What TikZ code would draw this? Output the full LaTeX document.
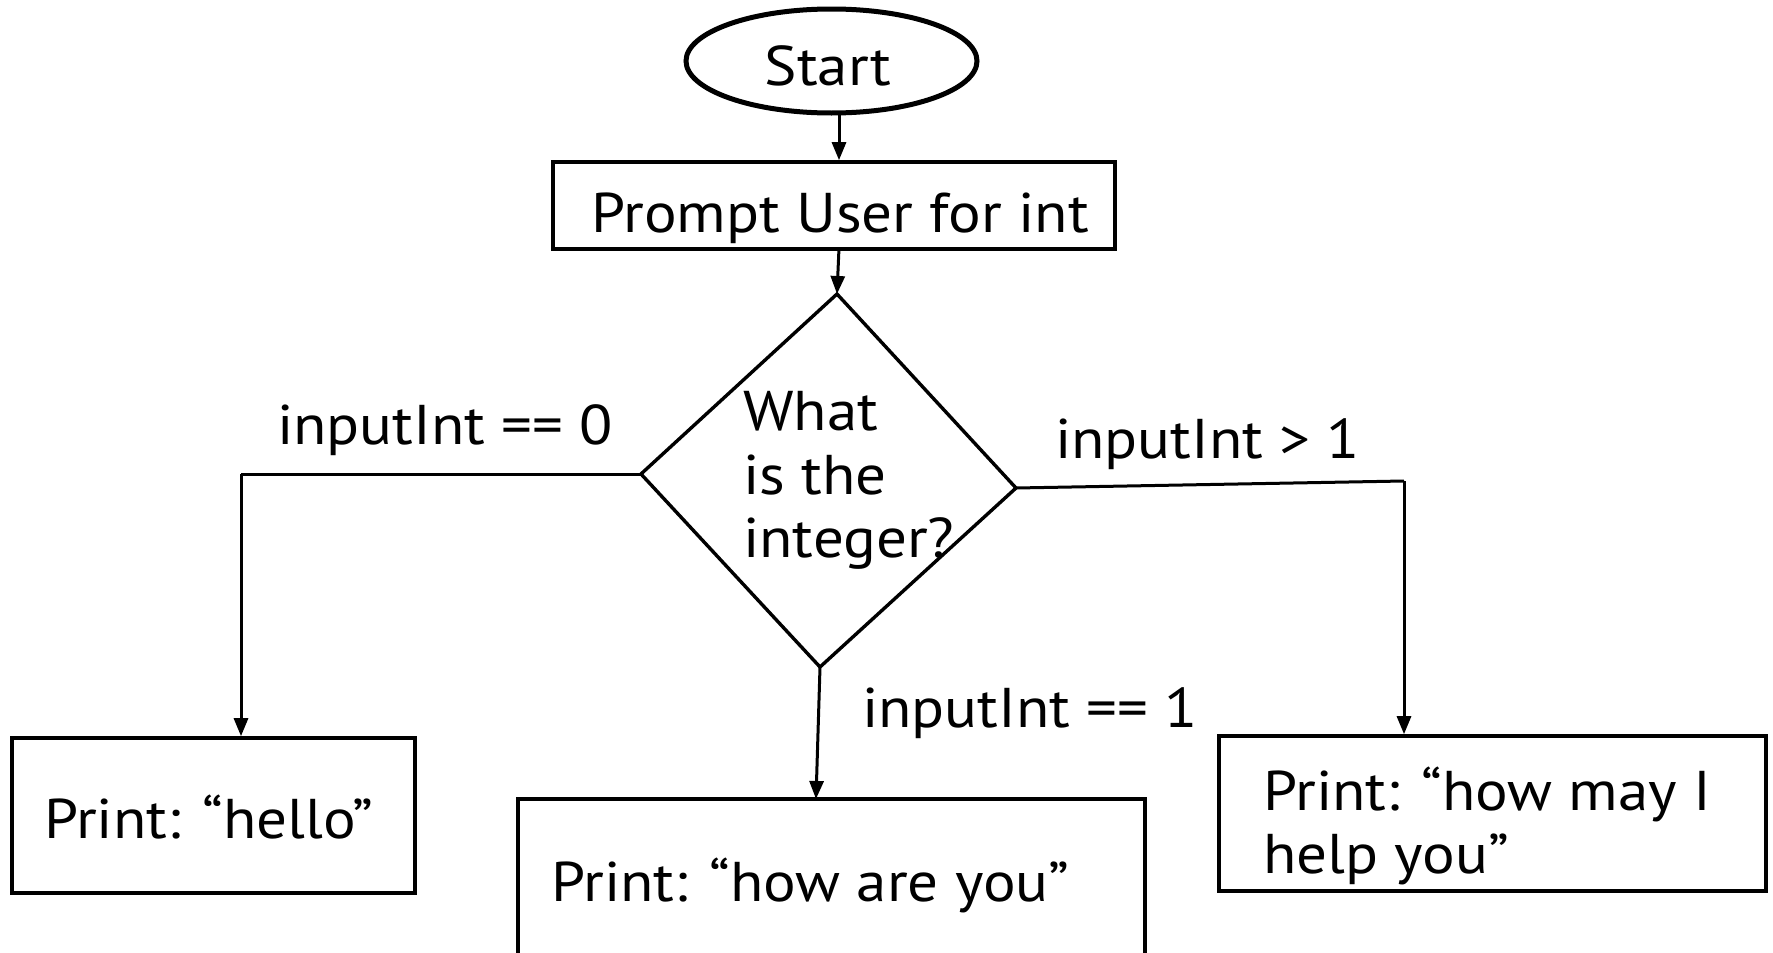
\documentclass[tikz,border=0pt]{standalone}
\usepackage{fontspec}
\setmainfont[FakeStretch=1.09]{PT Sans}
\usetikzlibrary{arrows.meta,shapes.geometric}

\begin{document}
\begin{tikzpicture}[x=1pt,y=-1pt,
  box/.style={draw,line width=3.6pt,rectangle,inner sep=0pt},
  conn/.style={line width=3pt,-{Triangle[length=18pt,width=14pt]}},
  plain/.style={line width=3pt},
  txt/.style={inner sep=0pt,anchor=base west,font=\fontsize{56}{66}\selectfont}
]
\useasboundingbox (0,0) rectangle (1773,953);

% terminal
\node[draw,ellipse,line width=5pt,minimum width=291pt,minimum height=104pt,inner sep=0pt]
  (start) at (831.5,61) {};
\node[txt,anchor=base] (starttxt) at (828,85) {Start};

% input step
\node[box,minimum width=562pt,minimum height=87pt] (prompt) at (834,205.5) {};
\node[txt] (prompttxt) at (591,232) {Prompt User for int};

% decision
\coordinate (dtop) at (837,294);
\coordinate (dleft) at (641,474);
\coordinate (dright) at (1016,488);
\coordinate (dbot) at (820,667);
\draw[line width=3.4pt,line join=miter] (dtop) -- (dright) -- (dbot) -- (dleft) -- cycle;
\node[txt] (q1) at (743,430) {What};
\node[txt] (q2) at (743,494) {is the};
\node[txt] (q3) at (743,557) {integer?};

% outputs
\node[box,minimum width=403pt,minimum height=155pt] (hello) at (213.5,815.5) {};
\node[txt] (hellotxt) at (44,838) {Print: “hello”};
\node[box,minimum width=627pt,minimum height=156pt] (howare) at (831.5,877) {};
\node[txt] (howaretxt) at (551,901) {Print: “how are you”};
\node[box,minimum width=547pt,minimum height=155pt] (howmay) at (1492.5,813.5) {};
\node[txt] (howmay1) at (1263,810) {Print: “how may I};
\node[txt] (howmay2) at (1263,873) {help you”};

% connectors
\coordinate (s1) at (839,113);
\coordinate (s2) at (839,248);
\draw[conn] (s1) -- (s1 |- prompt.north);
\draw[conn] (s2) -- (dtop);

\coordinate (lcorner) at (241,474);
\draw[plain] (dleft) -- (lcorner);
\draw[conn] (lcorner) -- (lcorner |- hello.north);

\coordinate (bend) at (816,799);
\draw[conn] (dbot) -- (bend);

\coordinate (rcorner) at (1404,481);
\draw[plain] (dright) -- (rcorner);
\draw[conn] (rcorner) -- (rcorner |- howmay.north);

% branch labels
\node[txt] (l0) at (277,444) {inputInt == 0};
\node[txt] (l1) at (862,727) {inputInt == 1};
\node[txt] (l2) at (1055,458) {inputInt > 1};
\end{tikzpicture}
\end{document}
